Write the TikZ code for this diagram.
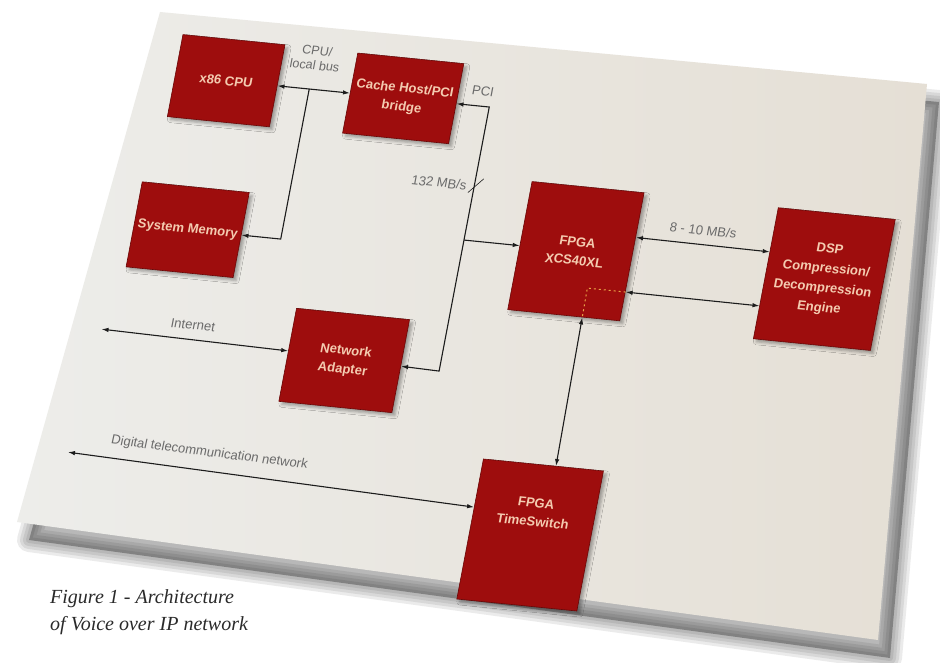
\documentclass[tikz,border=0pt]{standalone}
\usepackage{fontspec}
\setmainfont{Liberation Serif}
\setsansfont{Liberation Sans}
\usetikzlibrary{arrows.meta,shadows.blur}

\definecolor{boxred}{HTML}{9E0D0D}
\definecolor{boxedge}{HTML}{6A0707}
\definecolor{boxtext}{HTML}{F4CBB0}
\definecolor{cardL}{HTML}{EDEDEA}
\definecolor{cardR}{HTML}{E5DFD5}
\definecolor{wire}{HTML}{1C1C1C}
\definecolor{labelgray}{HTML}{6A6A6A}
\definecolor{fpgadash}{HTML}{E9A548}
\definecolor{captext}{HTML}{2A2A2A}

\tikzset{
  block/.style={draw=boxedge, line width=0.6pt, fill=boxred, text=boxtext,
    font=\sffamily\bfseries\fontsize{13}{18.5}\selectfont, align=center,
    inner sep=0pt, transform shape,
    blur shadow={shadow xshift=3pt, shadow yshift=-3pt, shadow blur radius=3pt, shadow opacity=35}},
  wirelabel/.style={text=labelgray, font=\sffamily\fontsize{13}{13}\selectfont,
    transform shape, inner sep=1pt},
  link/.style={draw=wire, line width=1.1pt},
  caption/.style={text=captext, font=\itshape\fontsize{20}{27}\selectfont, anchor=base west, inner sep=0pt},
  boardfade/.style={draw=black, draw opacity=0.08, line join=round}
}

\begin{document}
\begin{tikzpicture}[x=1pt,y=1pt,>={Latex[length=7pt,width=4.5pt]}]
\useasboundingbox (0,0) rectangle (940,-663);
\fill[white] (0,0) rectangle (940,-663);

% soft cast shadow of the board: a core plus fading rims
\fill[black, opacity=0.28] (172,-30) -- (939,-102) -- (890,-658) -- (29,-540) -- cycle;
\foreach \w in {24,18,12,6}{
  \path[boardfade, line width=\w pt]
    (172,-30) -- (939,-102) -- (890,-658) -- (29,-540) -- cycle;
}

% the board the diagram is printed on
\path[left color=cardL, right color=cardR]
  (160,-12) -- (927,-84) -- (878,-640) -- (17,-522) -- cycle;

% diagram drawn in the tilted plane of the board
\begin{scope}[cm={1,-0.1,0.19,1,(0,0)}]
  \node[block, minimum width=102, minimum height=82] (cpu)   at (237,-57)  {x86 CPU};
  \node[block, minimum width=106, minimum height=80] (cache) at (414,-57)  {Cache Host/PCI\\bridge};
  \node[block, minimum width=107, minimum height=85] (mem)   at (227,-207) {System Memory};
  \node[block, minimum width=112, minimum height=128] (fpga) at (612,-190) {FPGA\\XCS40XL};
  \node[block, minimum width=117, minimum height=131,
        font=\sffamily\bfseries\fontsize{13}{19.5}\selectfont] (dsp) at (861,-193)
        {DSP\\Compression/\\Decompression\\Engine};
  \node[block, minimum width=113, minimum height=93] (net)   at (405,-320) {Network\\Adapter};
  \node[block, minimum width=120, minimum height=140] (ts)   at (620,-473)
        {\raisebox{19pt}[0pt][0pt]{\begin{tabular}{@{}c@{}}FPGA\\TimeSwitch\end{tabular}}};

  % CPU / local bus
  \coordinate (busj)  at (320,-57);
  \coordinate (busdn) at (320,-207);
  \draw[link,<->] (cpu.east) -- (cache.west);
  \draw[link,->] (busj) -- (busdn) -- (mem.east);
  \node[wirelabel, align=center, font=\sffamily\fontsize{12.5}{14.5}\selectfont] (lbus) at (321,-26) {CPU/\\local bus};

  % PCI bus
  \coordinate (pcitop) at (500,-57);
  \coordinate (pcibot) at (500,-321);
  \coordinate (pcij)   at (500,-190);
  \coordinate (ticka)  at (495,-143);
  \coordinate (tickb)  at (508,-128);
  \draw[link,<->] (cache.east) -- (pcitop) -- (pcibot) -- (net.east);
  \draw[link,->] (pcij) -- (fpga.west);
  \draw[draw=wire, line width=0.6pt] (ticka) -- (tickb);
  \node[wirelabel] (lpci)  at (491,-42)  {PCI};
  \node[wirelabel] (lrate) at (465,-136) {132 MB/s};

  % FPGA to DSP links
  \draw[link,<->] (fpga.19) -- (dsp.160);
  \draw[link,<->] (fpga.-32) -- (dsp.209);
  \node[wirelabel] (lfast) at (733,-157) {8 - 10 MB/s};

  % internal FPGA route and link to the time switch
  \coordinate (fknee) at (630,-225);
  \draw[fpgadash, line width=1pt, dash pattern=on 2pt off 3pt] (fpga.-32) -- (fknee) -- (fpga.-74);
  \draw[link,<->] (fpga.-74) -- (ts.80);

  % external networks
  \coordinate (inet) at (161,-313);
  \draw[link,<->] (inet) -- (net.176);
  \node[wirelabel] (linet) at (250,-300) {Internet};

  \coordinate (telco) at (151,-437);
  \draw[link,<->] (telco) -- (ts.160);
  \node[wirelabel, rotate=-1.5] (ltel) at (290,-424) {Digital telecommunication network};
\end{scope}

% caption
\node[caption] (cap1) at (50,-603) {Figure 1 - Architecture};
\node[caption] (cap2) at (50,-630) {of Voice over IP network};
\end{tikzpicture}
\end{document}
